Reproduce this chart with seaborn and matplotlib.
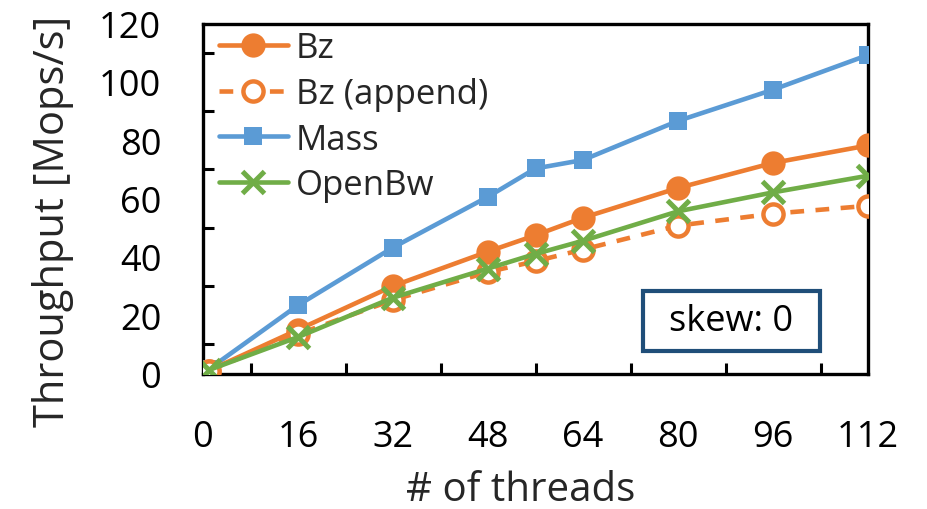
import matplotlib
matplotlib.use("Agg")
import matplotlib.pyplot as plt
from matplotlib.patches import Rectangle
from matplotlib.ticker import MultipleLocator
import seaborn as sns
import pandas as pd

threads = [1, 16, 32, 48, 56, 64, 80, 96, 112]
bz = [1.0, 15.0, 30.0, 41.8, 47.4, 53.4, 63.6, 72.2, 78.2]
bz_append = [1.0, 13.5, 25.2, 34.8, 38.5, 42.5, 50.7, 54.8, 57.5]
mass = [1.5, 23.4, 43.2, 60.6, 70.3, 73.2, 86.6, 97.3, 109.2]
openbw = [1.2, 12.5, 26.0, 36.0, 41.0, 45.5, 55.6, 62.1, 67.8]
x_ticks = [0, 16, 32, 48, 64, 80, 96, 112]
y_ticks = [0, 20, 40, 60, 80, 100, 120]

sns.set_theme(style="white")
plt.rcParams['font.family'] = ['Open Sans', 'DejaVu Sans']

ORANGE = "#ED7D31"
BLUE = "#5B9BD5"
GREEN = "#70AD47"

fig = plt.figure(figsize=(9.27, 5.10), dpi=100)
ax = fig.add_axes([203/927, 1-374.5/510, (868-203)/927, (374.5-24.5)/510])

df = pd.DataFrame({"x": threads, "Bz": bz, "Bz (append)": bz_append,
                   "Mass": mass, "OpenBw": openbw})

lw = 3.3
sns.lineplot(data=df, x="x", y="Mass", ax=ax, color=BLUE, lw=lw, marker="s",
             markersize=12.5, markeredgewidth=0, markeredgecolor=BLUE,
             label="Mass", zorder=3)
sns.lineplot(data=df, x="x", y="Bz", ax=ax, color=ORANGE, lw=lw, marker="o",
             markersize=17.5, markeredgewidth=0, markeredgecolor=ORANGE,
             label="Bz", zorder=4)
sns.lineplot(data=df, x="x", y="Bz (append)", ax=ax, color=ORANGE, lw=lw, marker="o",
             markersize=14.5, markeredgewidth=3.2, markerfacecolor="white",
             markeredgecolor=ORANGE, label="Bz (append)", zorder=5)
sns.lineplot(data=df, x="x", y="OpenBw", ax=ax, color=GREEN, lw=lw, marker="x",
             markersize=15.5, markeredgewidth=3.6, markeredgecolor=GREEN,
             label="OpenBw", zorder=6)
for ln in ax.lines:
    if ln.get_label() == "Bz (append)":
        ln.set_linestyle((0, (3, 2.5)))
    else:
        ln.set_linestyle("-")

ax.set_xlim(0, 112)
ax.set_ylim(0, 120)
ax.set_xticks(x_ticks)
ax.set_xticklabels([str(v) for v in x_ticks])
ax.set_yticks(y_ticks)
ax.set_yticklabels([str(v) for v in y_ticks])
ax.xaxis.set_minor_locator(MultipleLocator(8))
ax.yaxis.set_minor_locator(MultipleLocator(10))

fs = 26
ax.tick_params(axis="both", which="both", direction="in", width=2.2, length=8,
               colors="black", labelsize=fs)
ax.tick_params(axis="x", which="major", pad=33)
ax.tick_params(axis="y", which="major", pad=30)
ax.tick_params(axis="both", which="minor", bottom=True, left=True)
for s in ax.spines.values():
    s.set_visible(True)
    s.set_color("black")
    s.set_linewidth(2.4)

ax.set_xlabel("# of threads", fontsize=29, labelpad=10)
ax.xaxis.label.set_x((521-203)/665)
ax.set_ylabel("Throughput [Mops/s]", fontsize=30, labelpad=18)
ax.yaxis.label.set_y((374.5-221)/350)

handles, labels = ax.get_legend_handles_labels()
order = ["Bz", "Bz (append)", "Mass", "OpenBw"]
hmap = dict(zip(labels, handles))
ax.legend([hmap[k] for k in order], order, loc="upper left",
          bbox_to_anchor=(-0.008, 1.038), frameon=False, fontsize=fs - 1,
          handlelength=2.0, handletextpad=0.22, labelspacing=0.34,
          borderaxespad=0.2)

rect = Rectangle(((643-203)/665, (374.5-352)/350), 177/665, 60/350,
                 transform=ax.transAxes, facecolor="white",
                 edgecolor="#1F4E79", linewidth=3, zorder=7)
ax.add_patch(rect)
ax.text((731-203)/665, (374.5-322)/350, "skew: 0", transform=ax.transAxes,
        ha="center", va="center", fontsize=26, zorder=8, color="black")

fig.savefig("out.png", dpi=100)
